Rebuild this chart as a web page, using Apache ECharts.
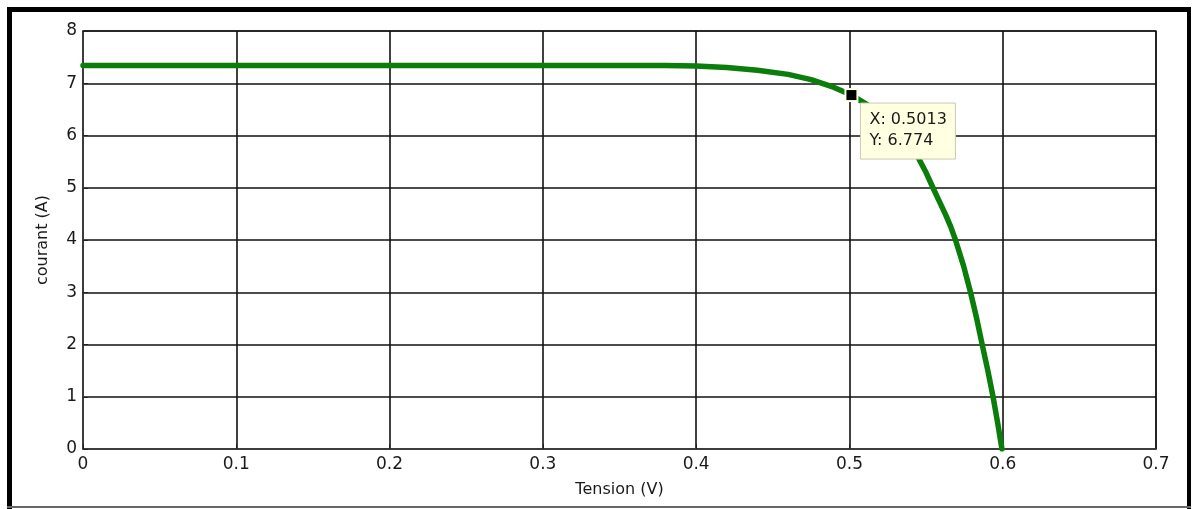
<!DOCTYPE html>
<html><head><meta charset="utf-8">
<script src="https://cdn.jsdelivr.net/npm/echarts@6/dist/echarts.min.js"></script>
<style>html,body{margin:0;padding:0;background:#fff}#c{width:1193px;height:509px}</style>
</head><body><div id="c"></div>
<script>
var voltage = [0, 0.1, 0.2, 0.3, 0.38, 0.40, 0.42, 0.44, 0.46, 0.475, 0.49, 0.5013, 0.51, 0.52, 0.53, 0.54, 0.545, 0.55, 0.5545, 0.5585, 0.5625, 0.566, 0.5692, 0.5745, 0.579, 0.583, 0.5866, 0.5903, 0.5937, 0.5967, 0.5995];
var current = [7.34, 7.34, 7.34, 7.34, 7.34, 7.33, 7.30, 7.25, 7.17, 7.07, 6.92, 6.774, 6.62, 6.42, 6.15, 5.78, 5.57, 5.29, 5.00, 4.75, 4.50, 4.26, 4.00, 3.50, 3.00, 2.50, 2.00, 1.50, 1.00, 0.50, 0.0];
var xTicks = ['0', '0.1', '0.2', '0.3', '0.4', '0.5', '0.6', '0.7'];
var yTicks = ['0', '1', '2', '3', '4', '5', '6', '7', '8'];
var marker = [0.5013, 6.774];

var F = 'DejaVu Sans';
var chart = echarts.init(document.getElementById('c'));
var pts = voltage.map(function (v, i) { return [v, current[i]]; });
chart.setOption({
  animation: false,
  backgroundColor: '#fff',
  grid: { left: 83, top: 31, right: 37, bottom: 60, show: true, borderColor: '#444', borderWidth: 1.5, containLabel: false },
  xAxis: {
    type: 'value', min: 0, max: 0.7, interval: 0.1,
    name: 'Tension (V)', nameLocation: 'middle', nameGap: 33,
    nameTextStyle: { fontFamily: F, fontSize: 16, color: '#1a1a1a' },
    axisLine: { show: true, lineStyle: { color: '#444', width: 1.5 } },
    axisTick: { show: true, inside: true, length: 5, lineStyle: { color: '#222' } },
    axisLabel: { margin: 7, fontFamily: F, fontSize: 17, color: '#1a1a1a',
      formatter: function (v) { return xTicks[Math.round(v * 10)]; } },
    splitLine: { show: true, lineStyle: { color: '#111', width: 1.6 } }
  },
  yAxis: {
    type: 'value', min: 0, max: 8, interval: 1,
    name: 'courant (A)', nameLocation: 'middle', nameGap: 32,
    nameTextStyle: { fontFamily: F, fontSize: 16, color: '#1a1a1a' },
    axisLine: { show: true, lineStyle: { color: '#444', width: 1.5 } },
    axisTick: { show: true, inside: true, length: 5, lineStyle: { color: '#222' } },
    axisLabel: { margin: 6, fontFamily: F, fontSize: 17, color: '#1a1a1a',
      formatter: function (v) { return yTicks[Math.round(v)]; } },
    splitLine: { show: true, lineStyle: { color: '#111', width: 1.6 } }
  },
  series: [
    {
      type: 'line', data: pts, showSymbol: false, smooth: false,
      lineStyle: { color: '#0a7d0a', width: 5.5, join: 'round', cap: 'round' }, z: 3
    }
  ]
});

var p = chart.convertToPixel({ seriesIndex: 0 }, marker);
chart.setOption({
  graphic: [
    { id: 'bt', type: 'rect', shape: { x: 7, y: 7, width: 1184, height: 5 }, style: { fill: '#000' }, z: 10 },
    { id: 'bl', type: 'rect', shape: { x: 7, y: 7, width: 5, height: 502 }, style: { fill: '#000' }, z: 10 },
    { id: 'br', type: 'rect', shape: { x: 1187, y: 7, width: 4, height: 502 }, style: { fill: '#000' }, z: 10 },
    { id: 'bb', type: 'rect', shape: { x: 7, y: 506, width: 1184, height: 2 }, style: { fill: '#666' }, z: 10 },
    { id: 'mk0', type: 'rect', shape: { x: p[0] - 7, y: p[1] - 7, width: 14, height: 14 }, style: { fill: '#ffffe1' }, z: 20 },
    { id: 'mk1', type: 'rect', shape: { x: p[0] - 5, y: p[1] - 5, width: 10, height: 10 }, style: { fill: '#000' }, z: 21 },
    { id: 'tipbox', type: 'rect', shape: { x: p[0] + 9, y: p[1] + 8, width: 95, height: 56 },
      style: { fill: '#ffffe1', stroke: '#c9c9b4', lineWidth: 1 }, z: 22 },
    { id: 'tiptext', type: 'text', x: p[0] + 18, y: p[1] + 14, z: 23,
      style: {
        text: 'X: ' + marker[0] + '\nY: ' + marker[1],
        font: '16px "DejaVu Sans"', fill: '#1a1a1a', lineHeight: 21
      } }
  ]
});
</script></body></html>
